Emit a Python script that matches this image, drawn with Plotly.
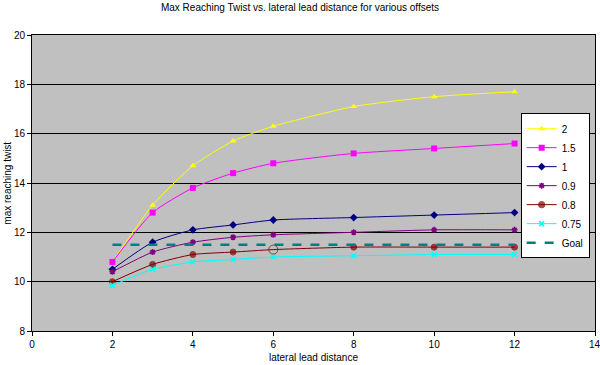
import plotly.graph_objects as go

x_vals = [2, 3, 4, 5, 6, 8, 10, 12]
s_2 = [10.8, 13.1, 14.7, 15.7, 16.3, 17.1, 17.5, 17.7]
s_15 = [10.8, 12.8, 13.8, 14.4, 14.8, 15.2, 15.4, 15.6]
s_1 = [10.5, 11.6, 12.1, 12.3, 12.5, 12.6, 12.7, 12.8]
s_09 = [10.4, 11.2, 11.6, 11.8, 11.9, 12.0, 12.1, 12.1]
s_08 = [10.0, 10.7, 11.1, 11.2, 11.3, 11.4, 11.4, 11.4]
s_075 = [9.85, 10.5, 10.8, 10.9, 11.0, 11.05, 11.1, 11.1]
goal_x = [2, 12]
goal_y = [11.5, 11.5]
last_x_tick = 14

FONT = "Liberation Sans, Arial, sans-serif"

fig = go.Figure()

def add(name, y, color, symbol, size, lw=1, mline=None):
    marker = dict(symbol=symbol, size=size, color=color)
    if mline:
        marker["line"] = dict(color=color, width=mline)
    fig.add_trace(go.Scatter(
        x=x_vals, y=y, name=name, mode="lines+markers",
        line=dict(color=color, width=lw, shape="spline", smoothing=0.6),
        marker=marker,
    ))

add("2", s_2, "#FFFF00", "triangle-up", 6)
add("1.5", s_15, "#FF00FF", "square", 6)
add("1", s_1, "#000080", "diamond", 6)
add("0.9", s_09, "#800080", "asterisk-open", 5, mline=1.5)
add("0.8", s_08, "#800000",
    ["circle", "circle", "circle", "circle", "circle-open", "circle", "circle", "circle"], 6)
fig.data[-1].marker.size = [6, 6, 6, 6, 9, 6, 6, 6]
fig.data[-1].marker.line = dict(color="#800000", width=1)
add("0.75", s_075, "#00FFFF", "x-thin-open", 5, mline=1.5)

fig.add_trace(go.Scatter(
    x=goal_x, y=goal_y, name="Goal", mode="lines",
    line=dict(color="#008080", width=2.5, dash="dash"),
))

fig.update_layout(
    width=600, height=365,
    margin=dict(l=32, r=5, t=35, b=34, autoexpand=False),
    paper_bgcolor="white",
    plot_bgcolor="#C0C0C0",
    font=dict(family=FONT, size=10, color="black"),
    title=dict(text="Max Reaching Twist vs. lateral lead distance for various offsets",
               x=0.5, xanchor="center", y=0.99, yanchor="top",
               font=dict(family=FONT, size=10, color="black")),
    showlegend=True,
    legend=dict(x=0.868, xanchor="left", y=0.736, yanchor="top",
                bgcolor="white", bordercolor="black", borderwidth=1,
                font=dict(family=FONT, size=10, color="black"),
                itemwidth=30, tracegroupgap=0),
    annotations=[
        dict(text="lateral lead distance", xref="paper", yref="paper",
             x=0.5, y=-0.09, xanchor="center", yanchor="middle", showarrow=False,
             font=dict(family=FONT, size=10)),
        dict(text="max reaching twist", xref="paper", yref="paper",
             x=-0.045, y=0.5, xanchor="center", yanchor="middle", showarrow=False,
             textangle=-90, font=dict(family=FONT, size=10)),
        dict(text=str(last_x_tick), xref="x", yref="paper",
             x=last_x_tick, y=-0.02, xanchor="center", yanchor="top", showarrow=False,
             font=dict(family=FONT, size=10)),
    ],
)

fig.update_xaxes(
    range=[0, 14], dtick=2, tick0=0, automargin=False,
    showgrid=False, zeroline=False,
    showline=True, linecolor="black", linewidth=1, mirror=True,
    ticks="outside", ticklen=4, tickcolor="black",
    tickfont=dict(family=FONT, size=10),
)
fig.update_yaxes(
    range=[8, 20], dtick=2, tick0=8, automargin=False,
    showgrid=True, gridcolor="black", gridwidth=1, zeroline=False,
    showline=True, linecolor="black", linewidth=1, mirror=True,
    ticks="outside", ticklen=4, tickcolor="black",
    tickfont=dict(family=FONT, size=10),
)

fig.write_html("out.html",
               config={"displayModeBar": False},
               post_script="document.body.style.margin='0';document.body.style.overflow='hidden';")
